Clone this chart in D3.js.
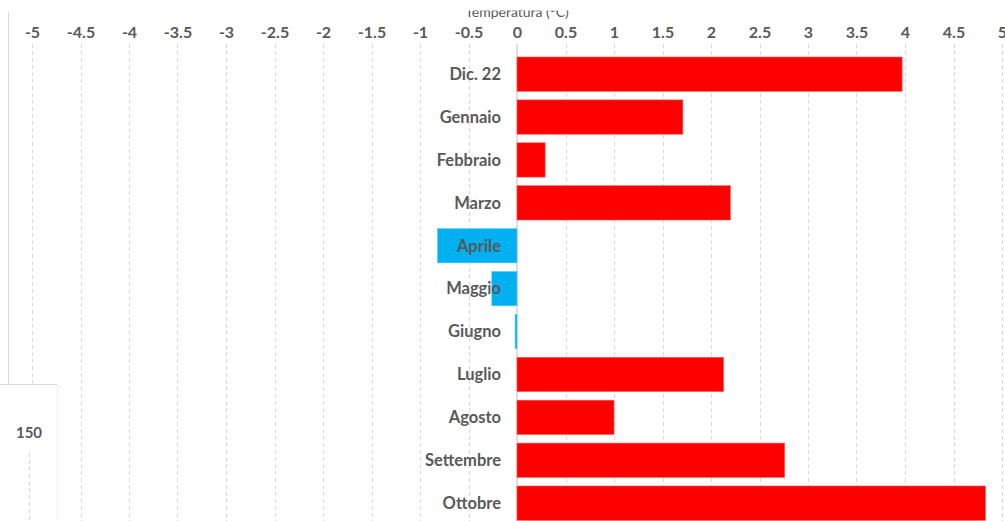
<!DOCTYPE html>
<html>
<head>
<meta charset="utf-8">
<script src="https://cdn.jsdelivr.net/npm/d3@7"></script>
<style>
  html, body { margin: 0; padding: 0; background: #fff; }
  svg { display: block; }
  text { font-family: Lato, "Open Sans", sans-serif; }
</style>
</head>
<body>
<svg id="chart" width="1005" height="521"></svg>
<script>
// Monthly temperature anomalies (°C)
const months = ["Dic. 22", "Gennaio", "Febbraio", "Marzo", "Aprile", "Maggio",
                "Giugno", "Luglio", "Agosto", "Settembre", "Ottobre"];
const anomalies = [3.97, 1.71, 0.29, 2.20, -0.82, -0.26, -0.02, 2.13, 1.00, 2.76, 4.83];
const xTicks = [-5, -4.5, -4, -3.5, -3, -2.5, -2, -1.5, -1, -0.5, 0, 0.5, 1, 1.5, 2, 2.5, 3, 3.5, 4, 4.5, 5];
const axisTitle = "Temperatura (°C)";
const insetLabel = "150";

const svg = d3.select("#chart");
const W = 1005, H = 521;

const x = d3.scaleLinear().domain([-5, 5]).range([32, 1002]);
const y = d3.scaleBand().domain(months).range([52.7, 524.6])
  .paddingInner(0.2).paddingOuter(0.1);

const grey = "#595959";
const gridCol = "#d9d9d9";

// left frame line
svg.append("line").attr("x1", 8.5).attr("x2", 8.5).attr("y1", 12).attr("y2", 384)
  .attr("stroke", gridCol).attr("stroke-width", 1);

// dashed vertical gridlines
svg.append("g").selectAll("line").data(xTicks.filter(d => d !== 0)).join("line")
  .attr("x1", d => Math.round(x(d)) + 0.5).attr("x2", d => Math.round(x(d)) + 0.5)
  .attr("y1", 44).attr("y2", H)
  .attr("stroke", gridCol).attr("stroke-width", 1).attr("stroke-dasharray", "4,3");

// zero line
svg.append("line").attr("x1", x(0)).attr("x2", x(0)).attr("y1", 44).attr("y2", H)
  .attr("stroke", "#bfbfbf").attr("stroke-width", 1);

// top axis with tick labels only
const axis = d3.axisTop(x).tickValues(xTicks).tickSize(0).tickPadding(0)
  .tickFormat(d => String(d));
const gAxis = svg.append("g").attr("transform", "translate(0,37.5)").call(axis);
gAxis.select(".domain").remove();
gAxis.selectAll("text")
  .attr("fill", grey).attr("font-size", 16).attr("font-weight", "bold")
  .style("font-family", "Lato, 'Open Sans', sans-serif");

// axis title, clipped along the top edge
svg.append("clipPath").attr("id", "titleClip")
  .append("rect").attr("x", 0).attr("y", 10.5).attr("width", W).attr("height", 20);
svg.append("text").attr("clip-path", "url(#titleClip)")
  .attr("x", x(0)).attr("y", 16.5).attr("text-anchor", "middle")
  .attr("font-size", 14).attr("fill", grey).text(axisTitle);

// bars
const data = months.map((m, i) => ({ month: m, value: anomalies[i] }));
svg.append("g").selectAll("rect").data(data).join("rect")
  .attr("x", d => x(Math.min(0, d.value)))
  .attr("y", d => y(d.month))
  .attr("width", d => Math.max(1, Math.abs(x(d.value) - x(0))))
  .attr("height", y.bandwidth())
  .attr("fill", d => d.value >= 0 ? "#ff0000" : "#00b0f0")
  .attr("stroke", d => d.value >= 0 ? "#ff5a5a" : "#5fcdf5")
  .attr("stroke-width", 0.6);

// category labels, right-aligned against the zero line
svg.append("g").selectAll("text").data(data).join("text")
  .attr("x", x(0) - 16)
  .attr("y", d => y(d.month) + y.bandwidth() / 2)
  .attr("dy", "0.35em")
  .attr("text-anchor", "end")
  .attr("font-size", 16.5).attr("font-weight", "bold")
  .attr("fill", grey)
  .text(d => d.month);

// inset panel in the lower-left corner
const inset = svg.append("g");
inset.append("rect").attr("x", 0).attr("y", 384).attr("width", 57).attr("height", H - 384)
  .attr("fill", "#fff");
inset.append("line").attr("x1", 0).attr("x2", 57).attr("y1", 384.5).attr("y2", 384.5)
  .attr("stroke", gridCol);
inset.append("line").attr("x1", 57.5).attr("x2", 57.5).attr("y1", 384).attr("y2", H)
  .attr("stroke", "#efefef");
inset.append("text").attr("x", 29).attr("y", 433).attr("dy", "0.35em")
  .attr("text-anchor", "middle").attr("font-size", 15).attr("font-weight", "bold")
  .attr("fill", grey).text(insetLabel);
inset.append("line").attr("x1", 29.5).attr("x2", 29.5).attr("y1", 453).attr("y2", H)
  .attr("stroke", gridCol).attr("stroke-dasharray", "4,3");
</script>
</body>
</html>
